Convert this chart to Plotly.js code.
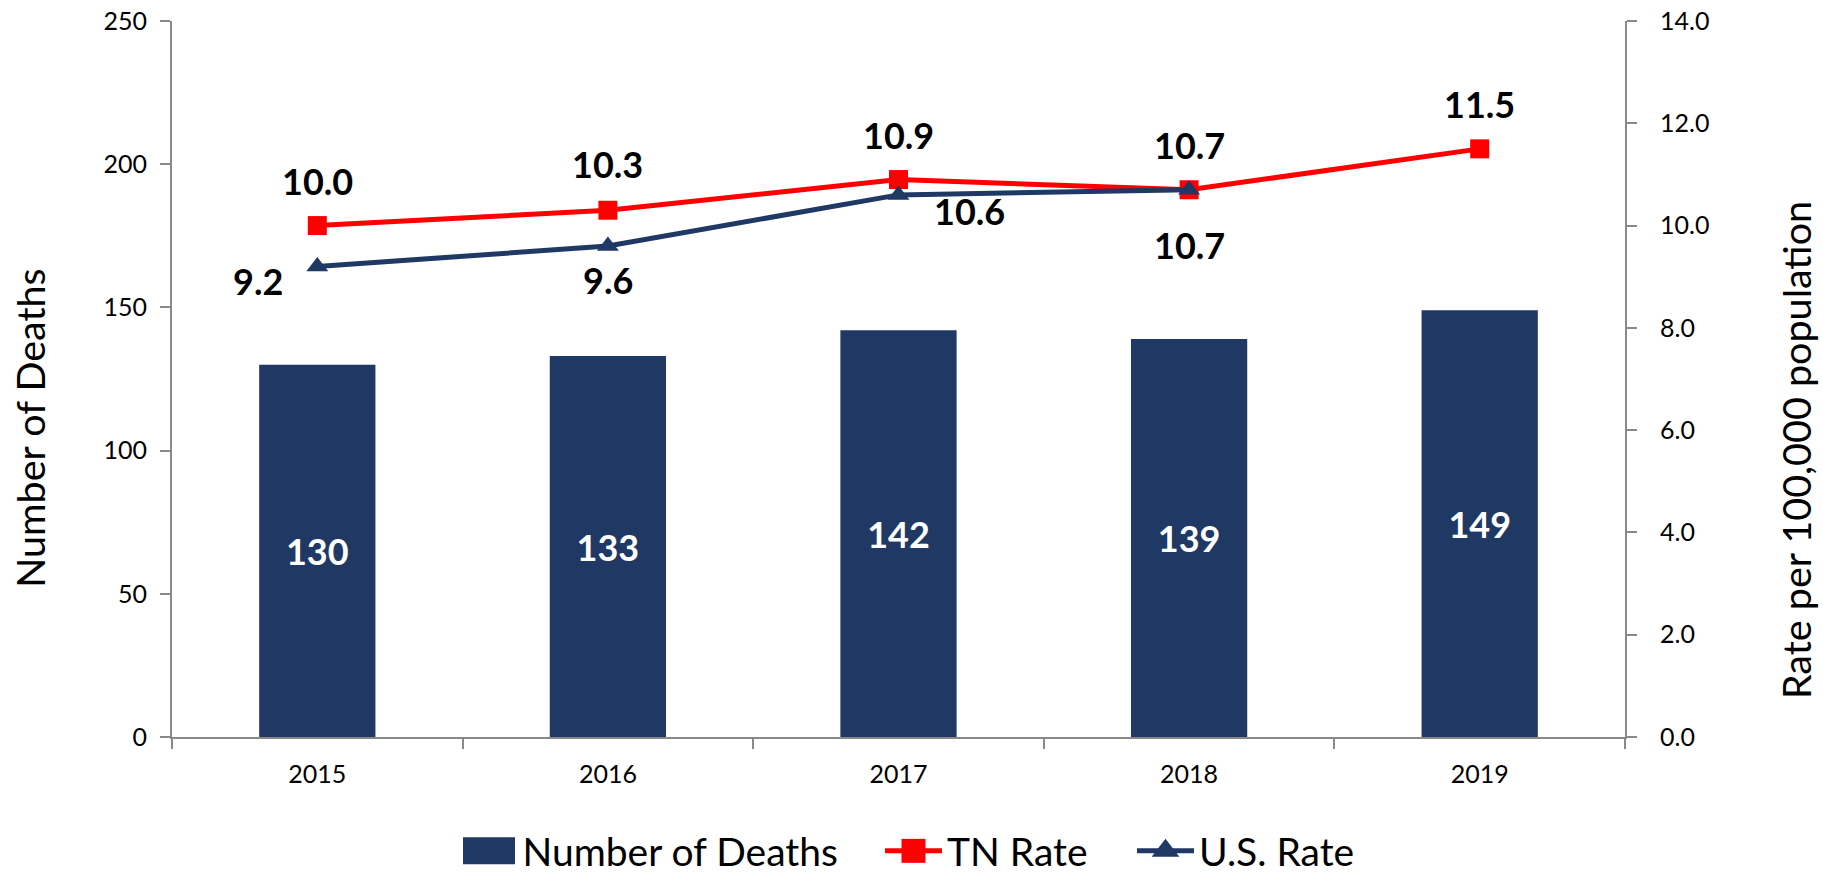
<!DOCTYPE html>
<html>
<head>
<meta charset="utf-8">
<script src="https://cdn.plot.ly/plotly-3.0.1.min.js"></script>
<style>
  html, body { margin: 0; padding: 0; background: #ffffff; }
  #chart { width: 1823px; height: 872px; }
</style>
</head>
<body>
<div id="chart"></div>
<script>
// ---- Data ----
const years = ['2015', '2016', '2017', '2018', '2019'];
const deaths = [130, 133, 142, 139, 149];
const tnRate = [10.0, 10.3, 10.9, 10.7, 11.5];
const usRate = [9.2, 9.6, 10.6, 10.7, null];

// ---- Styles ----
const FONT = 'Lato, "Open Sans", "DejaVu Sans", sans-serif';
const NAVY = '#1F3864';
const RED = '#FF0000';
const AXIS = '#898989';

// data-label offsets in px (style only)
const tnShift = [[0, 45], [0, 46], [0, 45], [0, 45], [0, 45]];
const usShift = [[-59, -15], [0, -34], [71, -16], [0, -55], [0, 0]];
// legend symbol left edges (px) and axis-title nudges (px)
const legendSymbolLeft = [463, 885, 1137];
const yTitleNudge = [-16, 49];
const y2TitleNudge = [35, 71];

const traces = [
  {
    type: 'bar', name: 'Number of Deaths', x: years, y: deaths, width: 0.4,
    marker: { color: NAVY },
    text: deaths.map(String), textposition: 'inside', insidetextanchor: 'middle',
    textfont: { family: FONT, size: 36, color: '#ffffff', weight: 'bold' }
  },
  {
    type: 'scatter', mode: 'lines+markers', name: 'TN Rate', x: years, y: tnRate, yaxis: 'y2',
    line: { color: RED, width: 5 }, marker: { color: RED, symbol: 'square', size: 19 }
  },
  {
    type: 'scatter', mode: 'lines+markers', name: 'U.S. Rate', x: years, y: usRate, yaxis: 'y2',
    connectgaps: false,
    line: { color: NAVY, width: 5 }, marker: { color: NAVY, symbol: 'triangle-up', size: 19 }
  }
];

const annotations = [];
for (let i = 0; i < years.length; i++) {
  if (tnRate[i] !== null) {
    annotations.push({
      x: i, y: tnRate[i], xref: 'x', yref: 'y2',
      text: tnRate[i].toFixed(1), showarrow: false,
      xshift: tnShift[i][0], yshift: tnShift[i][1],
      font: { family: FONT, size: 36, color: '#000000', weight: 'bold' }
    });
  }
  if (usRate[i] !== null) {
    annotations.push({
      x: i, y: usRate[i], xref: 'x', yref: 'y2',
      text: usRate[i].toFixed(1), showarrow: false,
      xshift: usShift[i][0], yshift: usShift[i][1],
      font: { family: FONT, size: 36, color: '#000000', weight: 'bold' }
    });
  }
}

const layout = {
  width: 1823, height: 872,
  margin: { l: 172, r: 198, t: 21, b: 135 },
  paper_bgcolor: '#ffffff', plot_bgcolor: '#ffffff',
  font: { family: FONT, color: '#000000' },
  showlegend: true,
  legend: {
    orientation: 'h',
    x: 0.497, xref: 'container', xanchor: 'center',
    y: 21 / 872, yref: 'container', yanchor: 'middle',
    font: { family: FONT, size: 39, color: '#000000' },
    itemwidth: 57, traceorder: 'normal'
  },
  xaxis: {
    type: 'category', range: [-0.5, 4.5],
    showline: true, linecolor: AXIS, linewidth: 2,
    ticks: 'outside', tickson: 'boundaries', ticklen: 10, tickcolor: AXIS, tickwidth: 2,
    showgrid: false, zeroline: false,
    tickfont: { family: FONT, size: 25, color: '#000000' },
    ticklabelstandoff: 14
  },
  yaxis: {
    range: [0, 250], dtick: 50,
    showline: true, linecolor: AXIS, linewidth: 2,
    ticks: 'outside', ticklen: 10, tickcolor: AXIS, tickwidth: 2,
    showgrid: false, zeroline: false,
    tickfont: { family: FONT, size: 25, color: '#000000' },
    ticklabelstandoff: 8,
    title: { text: 'Number of Deaths', font: { family: FONT, size: 39.5, color: '#000000' }, standoff: 30 }
  },
  yaxis2: {
    overlaying: 'y', side: 'right', range: [0, 14], dtick: 2, tickformat: '.1f',
    showline: true, linecolor: AXIS, linewidth: 2,
    ticks: 'outside', ticklen: 10, tickcolor: AXIS, tickwidth: 2,
    showgrid: false, zeroline: false,
    tickfont: { family: FONT, size: 25, color: '#000000' },
    ticklabelstandoff: 18,
    title: { text: 'Rate per 100,000 population', font: { family: FONT, size: 39.5, color: '#000000' }, standoff: 40 }
  },
  annotations: annotations
};

function nudge(el, dx, dy) {
  if (!el) return;
  const t = el.getAttribute('transform') || '';
  el.setAttribute('transform', 'translate(' + dx + ',' + dy + ') ' + t);
}

Plotly.newPlot('chart', traces, layout, { displayModeBar: false }).then(function (gd) {
  const legend = gd.querySelector('.legend');
  if (legend) {
    // let the spread-out entries show beyond the default legend box
    legend.removeAttribute('clip-path');
    legend.querySelectorAll('[clip-path]').forEach(function (el) { el.removeAttribute('clip-path'); });
  }
  const groups = gd.querySelectorAll('.legend .traces');
  if (groups.length) {
    // wide rectangle for the bar legend symbol, like the original
    const barSym = groups[0].querySelector('.legendpoints path');
    if (barSym) barSym.setAttribute('d', 'M26,13.5H-26V-13.5H26Z');
  }
  // larger markers in the line legend symbols, like the original
  gd.querySelectorAll('.legend .legendpoints path.scatterpts').forEach(function (p) {
    const t = p.getAttribute('transform') || '';
    p.setAttribute('transform', t + ' scale(1.5)');
  });
  groups.forEach(function (g, i) {
    const layers = g.querySelector('.layers') || g;
    const r = layers.getBoundingClientRect();
    if (legendSymbolLeft[i] !== undefined && r.width > 0) {
      nudge(g, legendSymbolLeft[i] - r.left, 0);
    }
  });
  // axis titles sit slightly below the middle in the original
  nudge(gd.querySelector('.g-ytitle'), yTitleNudge[0], yTitleNudge[1]);
  nudge(gd.querySelector('.g-y2title'), y2TitleNudge[0], y2TitleNudge[1]);
});
</script>
</body>
</html>
